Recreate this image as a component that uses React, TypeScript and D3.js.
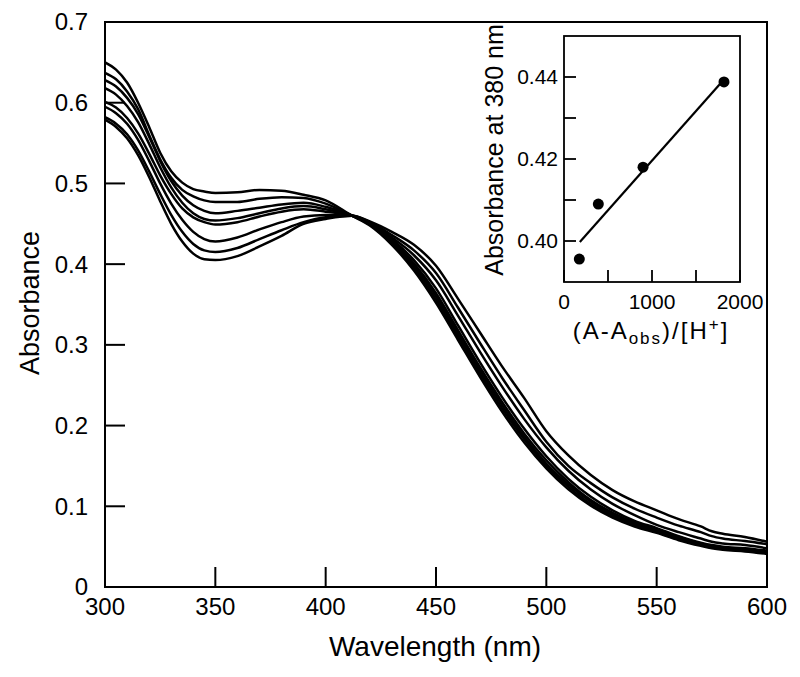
import React from "react";
import * as d3 from "d3";

const wavelengths = [300,305,310,315,320,325,330,335,340,345,350,360,370,380,390,400,412,420,430,440,450,460,470,480,490,500,510,520,530,540,550,560,570,575,580,590,600];

const spectrum1 = [.650,.641,.625,.600,.570,.538,.515,.501,.493,.490,.488,.489,.492,.491,.486,.479,.460,.448,.424,.392,.352,.306,.260,.217,.179,.147,.121,.101,.086,.075,.067,.058,.051,.048,.046,.044,.041];
const spectrum2 = [.637,.629,.614,.592,.560,.530,.507,.492,.484,.479,.477,.477,.481,.483,.482,.475,.460,.449,.426,.395,.356,.310,.264,.221,.183,.150,.124,.103,.088,.077,.068,.059,.052,.049,.047,.045,.042];
const spectrum3 = [.628,.620,.606,.586,.558,.528,.503,.485,.473,.466,.463,.466,.470,.474,.476,.471,.460,.449,.427,.398,.360,.314,.268,.225,.186,.153,.127,.106,.090,.078,.069,.060,.053,.050,.048,.046,.043];
const spectrum4 = [.618,.610,.596,.576,.549,.520,.495,.476,.463,.456,.454,.457,.463,.469,.472,.468,.460,.450,.429,.401,.364,.318,.272,.229,.190,.157,.130,.108,.092,.080,.071,.062,.054,.051,.049,.047,.044];
const spectrum5 = [.601,.594,.581,.562,.537,.510,.487,.469,.458,.452,.449,.452,.459,.465,.468,.465,.460,.450,.431,.405,.370,.324,.278,.235,.196,.162,.134,.112,.095,.082,.073,.063,.055,.052,.050,.048,.045];
const spectrum6 = [.595,.587,.574,.554,.528,.500,.475,.455,.440,.431,.428,.433,.443,.452,.459,.461,.460,.451,.433,.411,.380,.336,.291,.248,.208,.173,.144,.121,.103,.089,.077,.068,.060,.056,.054,.052,.048];
const spectrum7 = [.582,.574,.561,.541,.515,.487,.461,.440,.425,.417,.415,.420,.431,.442,.452,.458,.460,.452,.436,.417,.389,.346,.302,.259,.219,.180,.150,.129,.111,.097,.086,.076,.068,.063,.060,.057,.053];
const spectrum8 = [.579,.570,.556,.535,.508,.478,.450,.428,.413,.406,.405,.410,.422,.435,.450,.456,.460,.453,.440,.424,.398,.357,.315,.273,.234,.193,.163,.139,.120,.106,.095,.084,.075,.069,.066,.062,.056];

const spectra = [spectrum1, spectrum2, spectrum3, spectrum4, spectrum5, spectrum6, spectrum7, spectrum8];

const xTicks = [300, 350, 400, 450, 500, 550, 600];
const yTicks = [0, 0.1, 0.2, 0.3, 0.4, 0.5, 0.6, 0.7];
const yTickLabels = ["0", "0.1", "0.2", "0.3", "0.4", "0.5", "0.6", "0.7"];

// inset data
const insetX = [174, 390, 898, 1818];
const insetY = [0.3956, 0.4090, 0.4180, 0.4388];
const fitX = [180, 1785];
const fitIntercept = 0.3954;
const fitSlope = 0.0000242;
const insetXTicks = [0, 500, 1000, 1500, 2000];
const insetXLabels = [0, 1000, 2000];
const insetYTicks = [0.40, 0.41, 0.42, 0.43, 0.44];
const insetYLabels = [0.40, 0.42, 0.44];

const FONT = "'Liberation Sans', Arial, Helvetica, sans-serif";

export default function App() {
  const x = d3.scaleLinear().domain([300, 600]).range([105, 767]);
  const y = d3.scaleLinear().domain([0, 0.7]).range([587, 22]);
  const line = d3
    .line<number>()
    .x((_, i) => x(wavelengths[i]))
    .y((d) => y(d))
    .curve(d3.curveMonotoneX);

  const ix = d3.scaleLinear().domain([0, 2000]).range([564, 740]);
  const iy = d3.scaleLinear().domain([0.39, 0.45]).range([282, 36]);
  const tick = 20;
  const itick = 12;

  return (
    <svg
      width={800}
      height={677}
      style={{ position: "absolute", left: 0, top: 0, background: "#fff" }}
      fontFamily={FONT}
    >
      <rect x={0} y={0} width={800} height={677} fill="#fff" />
      {/* spectra */}
      <g fill="none" stroke="#000" strokeWidth={2.5} strokeLinejoin="round">
        {spectra.map((s, i) => (
          <path key={i} d={line(s) || ""} />
        ))}
      </g>
      {/* frame */}
      <rect x={105} y={22} width={662} height={565} fill="none" stroke="#000" strokeWidth={2} />
      {xTicks.map((t) => (
        <g key={t}>
          <line x1={x(t)} x2={x(t)} y1={587} y2={587 - tick} stroke="#000" strokeWidth={2} />
          <text x={x(t)} y={615} fontSize={24} textAnchor="middle">
            {t}
          </text>
        </g>
      ))}
      {yTicks.map((t, i) => (
        <g key={t}>
          <line x1={105} x2={105 + tick} y1={y(t)} y2={y(t)} stroke="#000" strokeWidth={2} />
          <text x={88} y={y(t)} dy="0.35em" fontSize={24} textAnchor="end">
            {yTickLabels[i]}
          </text>
        </g>
      ))}
      <text x={435} y={656} fontSize={28} textAnchor="middle">
        Wavelength (nm)
      </text>
      <text transform="translate(39,303) rotate(-90)" fontSize={27} textAnchor="middle">
        Absorbance
      </text>

      {/* inset */}
      <rect x={564} y={36} width={176} height={246} fill="#fff" stroke="#000" strokeWidth={1.8} />
      {insetXTicks.map((t) => (
        <line key={t} x1={ix(t)} x2={ix(t)} y1={282} y2={282 - itick} stroke="#000" strokeWidth={1.8} />
      ))}
      {insetXLabels.map((t) => (
        <text key={t} x={ix(t)} y={309} fontSize={21} textAnchor="middle">
          {t}
        </text>
      ))}
      {insetYTicks.map((t) => (
        <line key={t} x1={564} x2={564 + itick} y1={iy(t)} y2={iy(t)} stroke="#000" strokeWidth={1.8} />
      ))}
      {insetYLabels.map((t) => (
        <text key={t} x={558} y={iy(t)} dy="0.35em" fontSize={21} textAnchor="end">
          {t.toFixed(2)}
        </text>
      ))}
      <line
        x1={ix(fitX[0])}
        y1={iy(fitIntercept + fitSlope * fitX[0])}
        x2={ix(fitX[1])}
        y2={iy(fitIntercept + fitSlope * fitX[1])}
        stroke="#000"
        strokeWidth={2.2}
      />
      {insetX.map((v, i) => (
        <circle key={i} cx={ix(v)} cy={iy(insetY[i])} r={5.5} fill="#000" />
      ))}
      <text x={651} y={339} fontSize={24} textAnchor="middle" letterSpacing={2}>
        (A-A<tspan fontSize={17} dy={5}>obs</tspan>
        <tspan dy={-5}>)/[H</tspan>
        <tspan fontSize={17} dy={-9}>+</tspan>
        <tspan dy={9}>]</tspan>
      </text>
      <text transform="translate(503,150) rotate(-90)" fontSize={25} textAnchor="middle">
        Absorbance at 380 nm
      </text>
    </svg>
  );
}
